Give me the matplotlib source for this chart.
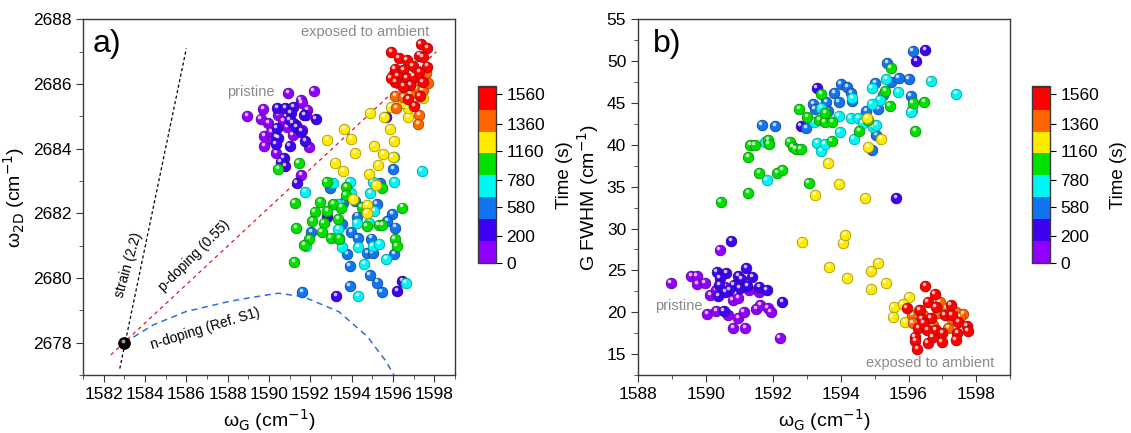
import numpy as np
import matplotlib
matplotlib.use('Agg')
import matplotlib.pyplot as plt
from matplotlib.colors import ListedColormap, BoundaryNorm
from matplotlib.transforms import offset_copy
from matplotlib.ticker import MultipleLocator

plt.rcParams['font.family'] = ['Liberation Sans', 'DejaVu Sans']
plt.rcParams['mathtext.fontset'] = 'dejavusans'

# colour scale (Origin style levels)
time_bounds = [0, 117, 450, 686, 804, 1140, 1340, 1396, 1630]
time_ticks = [0, 200, 580, 780, 1160, 1360, 1560]
level_colors = ['#9000ff', '#3d00f0', '#1274f0', '#00f5f5', '#00e000', '#ffea00', '#ff6600', '#ff0000']
over_color = '#b00000'

# time of each measurement group (s)
group_times = [60, 300, 570, 740, 970, 1240, 1370, 1500]

# ---------------- panel a: w_G vs w_2D ----------------
a0_x = [1590.93, 1592.17, 1588.95, 1589.72, 1589.59, 1589.97, 1589.76, 1589.76, 1591.53, 1591.59, 1591.86,
        1591.79, 1591.6, 1591.93, 1590.36, 1591.57, 1590.45, 1590.7, 1590.1, 1590.19, 1591.14, 1590.88, 1591.31]
a0_y = [2685.71, 2685.79, 2685.01, 2685.22, 2684.93, 2684.78, 2684.39, 2684.08, 2685.51, 2685.4, 2685.2,
        2685.04, 2684.58, 2684.06, 2683.86, 2683.19, 2685.04, 2684.84, 2684.5, 2684.27, 2684.42, 2684.68, 2684.73]
a1_x = [1590.41, 1590.79, 1591.17, 1592.26, 1591.69, 1591.05, 1591.0, 1591.14, 1591.31, 1590.38, 1590.36,
        1590.45, 1590.33, 1591.0, 1591.74, 1590.71, 1590.79, 1590.57, 1591.34, 1591.57, 1595.66, 1592.83,
        1593.26, 1596.21, 1596.45]
a1_y = [2685.25, 2685.27, 2685.28, 2684.91, 2685.04, 2685.09, 2684.89, 2684.8, 2684.68, 2684.63, 2684.37,
        2684.32, 2684.14, 2684.09, 2684.24, 2683.7, 2683.47, 2683.6, 2682.95, 2684.53, 2684.99, 2681.9,
        2679.45, 2679.61, 2679.91]
a2_x = [1596.02, 1592.95, 1593.6, 1594.17, 1595.22, 1595.97, 1594.28, 1593.52, 1595.71, 1596.1, 1592.03,
        1593.98, 1594.29, 1594.93, 1594.76, 1595.02, 1593.78, 1596.05, 1593.9, 1594.88, 1595.24, 1593.9,
        1595.45, 1591.62, 1595.36]
a2_y = [2683.38, 2682.77, 2682.33, 2682.38, 2682.29, 2681.97, 2681.9, 2681.67, 2681.76, 2681.56, 2681.41,
        2681.41, 2681.23, 2681.22, 2680.76, 2680.76, 2680.74, 2680.74, 2680.38, 2680.09, 2679.86, 2679.75,
        2679.58, 2679.58, 2682.93]
a3_x = [1597.38, 1596.05, 1593.09, 1591.74, 1593.9, 1593.98, 1594.9, 1595.1, 1593.34, 1594.24, 1594.84,
        1593.34, 1593.38, 1593.52, 1594.33, 1595.02, 1595.33, 1595.66, 1594.62, 1596.62, 1594.33, 1591.78,
        1595.02, 1596.03]
a3_y = [2683.32, 2682.98, 2682.93, 2682.67, 2682.98, 2682.62, 2682.64, 2682.08, 2682.29, 2681.71, 2681.71,
        2681.51, 2681.23, 2680.95, 2680.97, 2680.99, 2681.05, 2680.6, 2680.42, 2679.84, 2679.44, 2681.0,
        2682.98, 2683.75]
a4_x = [1590.45, 1591.43, 1592.79, 1593.74, 1593.72, 1591.24, 1592.47, 1593.1, 1592.22, 1592.81, 1593.48,
        1593.34, 1592.1, 1592.64, 1594.48, 1595.45, 1596.45, 1591.31, 1592.55, 1592.98, 1593.41, 1591.93,
        1591.71, 1594.72, 1595.31, 1595.48, 1596.09, 1596.17, 1591.22]
a4_y = [2683.37, 2683.55, 2682.98, 2682.82, 2682.57, 2682.33, 2682.36, 2682.29, 2682.05, 2682.07, 2682.18,
        2681.81, 2681.75, 2681.71, 2682.19, 2682.79, 2682.18, 2681.54, 2681.42, 2681.23, 2681.22, 2681.2,
        2681.02, 2681.61, 2681.64, 2681.63, 2681.2, 2680.99, 2680.49]
a5_x = [1594.88, 1595.57, 1595.84, 1593.64, 1592.83, 1593.98, 1594.17, 1595.09, 1596.03, 1595.53, 1595.98,
        1593.21, 1595.29, 1593.6, 1594.84, 1595.16, 1594.07, 1594.76, 1594.72, 1595.88, 1596.74, 1596.71,
        1596.48, 1597.43]
a5_y = [2685.09, 2684.97, 2684.6, 2684.61, 2684.27, 2684.29, 2683.86, 2684.09, 2684.24, 2683.82, 2683.75,
        2683.57, 2683.49, 2683.31, 2683.21, 2682.88, 2682.44, 2682.26, 2682.0, 2685.28, 2684.99, 2685.25,
        2685.4, 2685.56]
a6_x = [1596.0, 1597.6, 1597.14, 1596.83, 1596.1, 1596.14, 1597.26, 1597.21, 1597.43, 1596.48, 1597.69, 1597.09]
a6_y = [2686.28, 2686.33, 2685.84, 2685.68, 2685.64, 2685.25, 2685.04, 2684.76, 2685.81, 2685.61, 2686.02, 2686.12]
a7_x = [1595.91, 1597.34, 1597.66, 1596.28, 1596.66, 1597.26, 1597.43, 1596.95, 1596.09, 1596.48, 1596.22,
        1596.66, 1597.0, 1597.66, 1596.1, 1596.83, 1597.43, 1596.48, 1596.74, 1597.03, 1597.29, 1597.26, 1595.88]
a7_y = [2687.0, 2687.23, 2687.12, 2686.79, 2686.74, 2686.88, 2686.82, 2686.56, 2686.46, 2686.43, 2686.23,
        2686.18, 2686.23, 2686.54, 2686.05, 2685.97, 2686.07, 2685.92, 2685.54, 2685.32, 2685.64, 2686.38, 2686.18]

# undoped, unstrained reference point and guide lines
ref_x = [1583.0]
ref_y = [2678.0]
strain_x = [1582.78, 1586.0]
strain_y = [2677.2, 2687.1]
pdop_x = [1582.34, 1598.1]
pdop_y = [2677.62, 2687.0]
ndop_x = [1583.0, 1584.4, 1585.97, 1588.03, 1589.07, 1590.45, 1591.66, 1593.38, 1594.76, 1595.62, 1596.05]
ndop_y = [2678.0, 2678.55, 2678.96, 2679.27, 2679.39, 2679.53, 2679.42, 2678.96, 2678.19, 2677.46, 2677.0]

# ---------------- panel b: w_G vs G FWHM ----------------
b0_x = [1588.97, 1589.58, 1589.74, 1589.75, 1589.97, 1590.13, 1590.42, 1590.04, 1590.31, 1590.66, 1590.96,
        1591.12, 1590.82, 1591.17, 1591.49, 1591.62, 1591.84, 1591.92, 1592.19, 1591.58, 1590.31, 1590.8,
        1590.96, 1591.28, 1590.58]
b0_y = [23.45, 24.32, 24.32, 23.37, 23.53, 22.05, 27.43, 19.74, 20.18, 19.66, 19.26,
        20.06, 18.07, 18.07, 20.34, 20.86, 20.46, 20.06, 16.95, 22.45, 22.65, 21.45,
        21.65, 22.65, 23.05]
b1_x = [1590.76, 1590.33, 1590.61, 1590.42, 1590.4, 1590.96, 1591.2, 1591.06, 1591.37, 1590.83, 1590.69,
        1590.58, 1591.01, 1591.23, 1591.58, 1591.8, 1590.37, 1590.53, 1592.27, 1593.29, 1592.81, 1596.23,
        1596.49, 1595.63]
b1_y = [28.55, 24.84, 24.72, 24.04, 23.25, 24.32, 25.24, 23.92, 24.24, 23.25, 22.65,
        22.45, 22.93, 23.13, 23.05, 22.65, 21.93, 20.14, 21.25, 46.83, 42.25, 50.02,
        51.33, 33.69]
b2_x = [1591.66, 1592.05, 1592.98, 1593.18, 1593.22, 1593.57, 1593.62, 1593.81, 1593.94, 1593.99, 1594.18,
        1594.31, 1594.34, 1594.75, 1595.04, 1595.1, 1595.02, 1595.37, 1595.47, 1595.71, 1596.01, 1596.06,
        1595.24, 1596.12, 1594.91]
b2_y = [42.37, 42.29, 42.05, 44.88, 44.24, 45.16, 44.04, 46.24, 45.16, 47.27, 46.95,
        46.24, 45.24, 44.04, 41.18, 44.24, 47.43, 49.74, 47.55, 48.03, 47.87, 45.84,
        45.96, 51.25, 39.38]
b3_x = [1591.8, 1591.76, 1593.3, 1593.41, 1593.52, 1593.41, 1593.19, 1593.97, 1593.94, 1594.29, 1594.51,
        1594.38, 1594.65, 1594.94, 1595.05, 1594.91, 1595.15, 1595.34, 1595.69, 1594.34, 1596.1, 1596.06,
        1596.66, 1597.41, 1594.91]
b3_y = [35.8, 40.38, 40.26, 39.3, 40.1, 44.36, 42.77, 41.57, 43.45, 43.25, 43.17,
        40.66, 42.65, 42.17, 42.37, 46.75, 45.36, 47.83, 46.35, 45.56, 44.16, 43.88,
        47.67, 46.08, 44.88]
b4_x = [1590.45, 1591.25, 1591.25, 1591.32, 1591.45, 1591.58, 1591.85, 1591.87, 1592.12, 1592.27, 1592.49,
        1592.57, 1592.66, 1592.81, 1592.76, 1593.0, 1593.05, 1593.41, 1593.35, 1593.52, 1593.54, 1593.75,
        1593.73, 1594.54, 1594.8, 1595.31, 1595.47, 1595.44, 1596.12, 1596.47, 1596.19]
b4_y = [33.21, 34.2, 38.59, 39.98, 39.98, 36.59, 40.58, 40.1, 36.59, 36.99, 40.38,
        39.7, 39.46, 39.5, 44.28, 43.37, 35.48, 46.08, 42.97, 42.77, 43.76, 42.69,
        40.46, 41.69, 42.97, 46.47, 49.14, 44.64, 44.96, 45.16, 41.69]
b5_x = [1592.84, 1593.24, 1593.62, 1593.95, 1594.05, 1594.13, 1593.65, 1594.18, 1594.72, 1594.81, 1594.77,
        1595.2, 1594.9, 1595.1, 1594.88, 1595.33, 1595.56, 1595.53, 1596.0, 1595.83, 1595.91]
b5_y = [28.43, 34.0, 37.87, 35.32, 28.31, 29.22, 25.44, 24.04, 33.6, 39.78, 43.17,
        40.66, 24.96, 25.92, 22.73, 23.45, 20.58, 19.46, 21.85, 20.94, 18.86]
b6_x = [1597.62, 1597.39, 1597.11, 1596.92, 1596.1, 1596.12, 1596.44, 1596.71, 1597.17, 1597.51, 1596.87,
        1596.3, 1597.3]
b6_y = [19.78, 20.06, 20.46, 21.26, 19.66, 18.74, 19.66, 18.47, 18.07, 19.46, 19.86,
        20.3, 19.2]
b7_x = [1596.49, 1595.94, 1596.33, 1596.57, 1596.77, 1596.8, 1596.66, 1596.39, 1596.29, 1596.18, 1596.2,
        1596.26, 1596.57, 1596.71, 1596.8, 1597.0, 1596.98, 1597.07, 1597.25, 1597.28, 1597.46, 1597.43,
        1597.39, 1597.72, 1597.75, 1596.43, 1596.55]
b7_y = [23.17, 20.46, 20.26, 21.18, 22.13, 20.66, 19.26, 19.14, 18.07, 16.99, 16.59,
        15.6, 16.27, 16.99, 17.87, 17.55, 16.39, 19.66, 20.86, 19.66, 18.86, 17.47,
        16.67, 18.35, 17.75, 18.74, 17.87]

a_groups = [(a0_x, a0_y), (a1_x, a1_y), (a2_x, a2_y), (a3_x, a3_y),
            (a4_x, a4_y), (a5_x, a5_y), (a6_x, a6_y), (a7_x, a7_y)]
b_groups = [(b0_x, b0_y), (b1_x, b1_y), (b2_x, b2_y), (b3_x, b3_y),
            (b4_x, b4_y), (b5_x, b5_y), (b6_x, b6_y), (b7_x, b7_y)]

cmap = ListedColormap(level_colors)
cmap.set_over(over_color)
norm = BoundaryNorm(time_bounds, cmap.N)

fig = plt.figure(figsize=(11.31, 4.33), dpi=100)
ax_a = fig.add_axes([0.0734, 0.1339, 0.3289, 0.8215])
cax_a = fig.add_axes([0.4222, 0.3926, 0.0161, 0.4088])
ax_b = fig.add_axes([0.5641, 0.1339, 0.3289, 0.8215])
cax_b = fig.add_axes([0.9121, 0.3926, 0.0164, 0.4088])


def balls(ax, xs, ys, t, size=58):
    # shaded "sphere" look: body, darker rim, small white highlight
    col = np.array(cmap(norm(t)))
    edge = col.copy()
    edge[:3] *= 0.65
    ax.scatter(xs, ys, s=size, color=[col], edgecolors=[edge], linewidths=0.6, zorder=3)
    hl = offset_copy(ax.transData, fig=fig, x=-1.0, y=1.5, units='points')
    ax.scatter(xs, ys, s=size * 0.12, color='white', alpha=0.75, linewidths=0, transform=hl, zorder=3)


def style_axes(ax):
    for sp in ax.spines.values():
        sp.set_color('#3a3a3a')
        sp.set_linewidth(1.0)
    ax.tick_params(which='both', direction='out', top=False, right=False, labelsize=12.5, color='#3a3a3a')
    ax.tick_params(which='major', length=5)
    ax.tick_params(which='minor', length=3)


def colorbar(cax):
    sm = plt.cm.ScalarMappable(cmap=cmap, norm=norm)
    cb = fig.colorbar(sm, cax=cax, ticks=time_ticks, extend='max', extendfrac=0.01,
                      extendrect=True, spacing='uniform')
    cb.outline.set_linewidth(1.0)
    cb.outline.set_edgecolor('#3a3a3a')
    cb.ax.tick_params(labelsize=12.5, length=4, direction='out')
    cb.ax.minorticks_off()
    cb.set_label('Time (s)', fontsize=13.5, labelpad=8)
    return cb


# panel a
ax_a.plot(strain_x, strain_y, color='black', lw=0.9, ls=(0, (2.5, 2)), zorder=2)
ax_a.plot(pdop_x, pdop_y, color='#e8141c', lw=0.9, ls=(0, (3, 3)), zorder=2)
ax_a.plot(ndop_x, ndop_y, color='#2f6fd6', lw=1.1, ls=(0, (4, 3)), zorder=2)
for (gx, gy), t in zip(a_groups, group_times):
    balls(ax_a, gx, gy, t)
ax_a.scatter(ref_x, ref_y, s=66, color='black', edgecolors='#000000', zorder=4)
ax_a.scatter(ref_x, ref_y, s=8, color='white', alpha=0.6, linewidths=0, zorder=4,
             transform=offset_copy(ax_a.transData, fig=fig, x=-1, y=1.5, units='points'))

ax_a.set_xlim(1581, 1599)
ax_a.set_ylim(2677, 2688)
ax_a.xaxis.set_major_locator(MultipleLocator(2))
ax_a.xaxis.set_minor_locator(MultipleLocator(1))
ax_a.yaxis.set_major_locator(MultipleLocator(2))
ax_a.yaxis.set_minor_locator(MultipleLocator(1))
style_axes(ax_a)
ax_a.set_xlabel(r'ω$_{\rm G}$ (cm$^{-1}$)', fontsize=14)
ax_a.set_ylabel(r'ω$_{\rm 2D}$ (cm$^{-1}$)', fontsize=14)
ax_a.text(0.026, 0.93, 'a)', transform=ax_a.transAxes, fontsize=23, va='center', ha='left')
ax_a.text(1594.67, 2687.62, 'exposed to ambient', color='#8a8a8a', fontsize=10.5, ha='center', va='center')
ax_a.text(1589.1, 2685.76, 'pristine', color='#8a8a8a', fontsize=10.5, ha='center', va='center')
ax_a.text(1583.2, 2680.4, 'strain (2.2)', fontsize=10, rotation=74, ha='center', va='center')
ax_a.text(1586.4, 2680.7, 'p-doping (0.55)', fontsize=10, rotation=45, ha='center', va='center')
ax_a.text(1586.9, 2678.44, 'n-doping (Ref. S1)', fontsize=10, rotation=17, ha='center', va='center')
colorbar(cax_a)

# panel b
for (gx, gy), t in zip(b_groups, group_times):
    balls(ax_b, gx, gy, t)
ax_b.set_xlim(1588, 1599)
ax_b.set_ylim(12.5, 55)
ax_b.xaxis.set_major_locator(MultipleLocator(2))
ax_b.xaxis.set_minor_locator(MultipleLocator(1))
ax_b.yaxis.set_major_locator(MultipleLocator(5))
ax_b.yaxis.set_minor_locator(MultipleLocator(2.5))
style_axes(ax_b)
ax_b.set_xlabel(r'ω$_{\rm G}$ (cm$^{-1}$)', fontsize=14)
ax_b.set_ylabel(r'G FWHM (cm$^{-1}$)', fontsize=14)
ax_b.text(0.04, 0.93, 'b)', transform=ax_b.transAxes, fontsize=23, va='center', ha='left')
ax_b.text(1589.22, 20.74, 'pristine', color='#8a8a8a', fontsize=10.5, ha='center', va='center')
ax_b.text(1596.63, 13.88, 'exposed to ambient', color='#8a8a8a', fontsize=10.5, ha='center', va='center')
colorbar(cax_b)

fig.savefig('out.png', dpi=100)
